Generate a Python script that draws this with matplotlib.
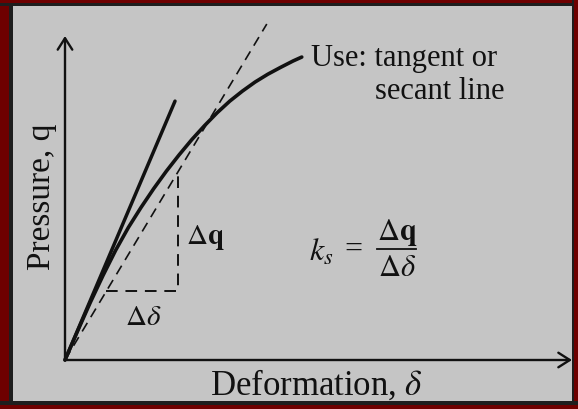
import matplotlib
matplotlib.use("Agg")
import matplotlib.pyplot as plt
from matplotlib.patches import Rectangle

plt.rcParams['font.family'] = ['Liberation Serif', 'DejaVu Serif']
plt.rcParams['mathtext.fontset'] = 'stix'

# load-deformation curve (arbitrary units)
deformation = [0, 0.25, 0.5, 0.75, 1.0, 1.25, 1.5, 1.75, 2.0, 2.25, 2.5,
               2.75, 3.0, 3.25, 3.5, 3.75, 4.0, 4.25, 4.5, 4.67]
pressure = [0, 0.9, 1.78, 2.61, 3.39, 4.09, 4.71, 5.29, 5.83, 6.33, 6.8,
            7.23, 7.63, 7.99, 8.3, 8.58, 8.82, 9.03, 9.23, 9.35]

# tangent (solid) and secant (dashed) lines, both from the origin
tangent_x = [0, 2.17]
tangent_y = [0, 7.99]
secant_x = [0, 3.98]
secant_y = [0, 10.37]

# slope triangle on the secant
tri_x = [0.81, 2.23]
tri_y = [2.12, 5.81]

axis_len = 10.0

W, H = 578, 410
X0, Y0 = 65, 361      # origin in pixels
SX, SY = 50.7, 32.4   # pixels per unit


def px(x, y):
    # pixel position (top-left origin) -> data units
    return (x - X0) / SX, (Y0 - y) / SY


fig = plt.figure(figsize=(W / 100, H / 100), dpi=100)
fig.patch.set_facecolor('#c5c5c5')
ax = fig.add_axes([0, 0, 1, 1])
ax.set_xlim(px(0, 0)[0], px(W, 0)[0])
ax.set_ylim(px(0, H)[1], px(0, 0)[1])
ax.axis('off')


# dark red frame with a thin dark inner line
def frame(x, y, w, h, c):
    fig.patches.append(Rectangle((x / W, 1 - (y + h) / H), w / W, h / H,
                                 transform=fig.transFigure, color=c, lw=0))


red, dark = '#6e0000', '#1e1e1e'
frame(0, 0, 9, H, red)
frame(9, 0, 4, H, dark)
frame(0, 0, W, 4, red)
frame(0, 4, W, 3, dark)
frame(W - 4, 0, 4, H, red)
frame(W - 6, 0, 2, H, dark)
frame(0, H - 4, W, 4, red)
frame(0, H - 8, W, 4, dark)

ink = '#111111'

# axes with arrows
arrow = dict(arrowstyle='->,head_length=0.55,head_width=0.35', color=ink,
             lw=1.7, mutation_scale=15, shrinkA=0, shrinkB=0)
ax.annotate('', xy=(axis_len, 0), xytext=(0, 0), arrowprops=arrow)
ax.annotate('', xy=(0, axis_len), xytext=(0, 0), arrowprops=arrow)

ax.plot(deformation, pressure, color=ink, lw=2.6, solid_capstyle='round',
        solid_joinstyle='round')
ax.plot(tangent_x, tangent_y, color=ink, lw=2.5, solid_capstyle='round')
ax.plot(secant_x, secant_y, color=ink, lw=1.2, linestyle=(0, (6, 4)))
ax.plot([tri_x[0], tri_x[1], tri_x[1]], [tri_y[0], tri_y[0], tri_y[1]],
        color=ink, lw=1.4, linestyle=(0, (6, 4)))

# labels
ax.text(*px(42, 197), 'Pressure, q', rotation=90, ha='center', va='center',
        fontsize=24, color=ink)
ax.text(*px(316, 385), r'Deformation, $\delta$', ha='center', va='center',
        fontsize=25, color=ink)
ax.text(*px(311, 66), 'Use: tangent or', ha='left', va='baseline',
        fontsize=22, color=ink)
ax.text(*px(505, 99), 'secant line', ha='right', va='baseline',
        fontsize=22, color=ink)
ax.text(*px(186, 237), r'$\Delta\mathbf{q}$', ha='left', va='center',
        fontsize=21, color=ink)
ax.text(*px(143, 318), r'$\Delta\delta$', ha='center', va='center',
        fontsize=21, color=ink)

# k_s = dq / d(delta)
ax.text(*px(309, 253), r'$k_s$', ha='left', va='center', fontsize=23, color=ink)
ax.text(*px(353, 250), '=', ha='center', va='center', fontsize=23, color=ink)
ax.text(*px(397, 233), r'$\Delta\mathbf{q}$', ha='center', va='center',
        fontsize=22, color=ink)
ax.text(*px(397, 269), r'$\Delta\delta$', ha='center', va='center',
        fontsize=22, color=ink)
bar_l, bar_r = px(377, 250), px(416, 250)
ax.plot([bar_l[0], bar_r[0]], [bar_l[1], bar_r[1]], color=ink, lw=1.3)

fig.savefig('out.png', dpi=100, facecolor=fig.get_facecolor())
